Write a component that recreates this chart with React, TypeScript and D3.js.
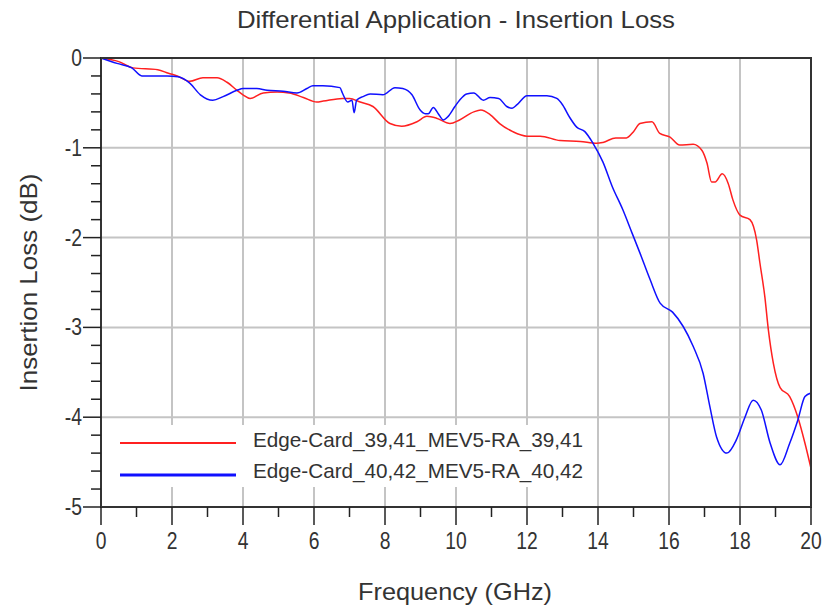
import React from "react";
import * as d3 from "d3";

const redFreq = [0,0.5,0.9,1.6,1.9,2.15,2.5,2.87,3.27,3.55,3.83,4.0,4.2,4.57,4.96,5.3,5.7,6.08,6.26,6.8,7.0,7.3,7.66,8.14,8.47,8.9,9.18,9.45,9.83,10.1,10.5,10.7,10.96,11.23,11.6,12.0,12.37,12.93,13.5,13.97,14.14,14.5,14.8,15.0,15.18,15.52,15.74,16.03,16.3,16.68,16.93,17.07,17.2,17.3,17.5,17.67,17.8,18.0,18.28,18.47,18.56,18.7,18.8,18.94,19.13,19.4,19.63,19.83,20];
const redLoss = [0,-0.04,-0.11,-0.13,-0.17,-0.2,-0.26,-0.22,-0.22,-0.27,-0.36,-0.41,-0.45,-0.39,-0.38,-0.39,-0.44,-0.49,-0.48,-0.45,-0.45,-0.49,-0.54,-0.73,-0.76,-0.71,-0.65,-0.67,-0.73,-0.69,-0.6,-0.58,-0.63,-0.73,-0.82,-0.87,-0.87,-0.92,-0.93,-0.95,-0.94,-0.89,-0.89,-0.82,-0.73,-0.71,-0.84,-0.88,-0.97,-0.96,-1.03,-1.17,-1.38,-1.38,-1.29,-1.4,-1.58,-1.75,-1.8,-2.03,-2.28,-2.66,-3.03,-3.4,-3.67,-3.77,-4.0,-4.29,-4.57];

const blueFreq = [0,0.45,0.87,1.15,1.86,2.17,2.5,2.8,3.15,3.44,3.83,4.0,4.39,4.68,5.13,5.52,5.8,5.97,6.25,6.73,6.8,6.95,7.07,7.13,7.2,7.38,7.58,7.94,8.28,8.5,8.76,8.99,9.13,9.22,9.36,9.5,9.64,9.78,9.97,10.1,10.3,10.5,10.77,10.96,11.2,11.43,11.58,11.72,12.0,12.56,12.84,13.0,13.2,13.4,13.63,13.86,14.14,14.4,14.7,14.96,15.18,15.47,15.75,16.1,16.4,16.68,16.96,17.15,17.34,17.63,17.9,18.14,18.37,18.6,18.85,19.13,19.4,19.63,19.83,20];
const blueLoss = [0,-0.06,-0.11,-0.2,-0.2,-0.21,-0.28,-0.41,-0.47,-0.43,-0.36,-0.34,-0.34,-0.36,-0.37,-0.39,-0.34,-0.31,-0.31,-0.33,-0.39,-0.49,-0.47,-0.61,-0.47,-0.43,-0.4,-0.41,-0.33,-0.34,-0.41,-0.58,-0.62,-0.62,-0.55,-0.62,-0.69,-0.65,-0.54,-0.47,-0.4,-0.39,-0.47,-0.44,-0.45,-0.54,-0.56,-0.52,-0.42,-0.42,-0.45,-0.52,-0.66,-0.77,-0.82,-0.95,-1.16,-1.43,-1.69,-1.95,-2.17,-2.47,-2.73,-2.83,-2.99,-3.21,-3.51,-3.88,-4.22,-4.4,-4.25,-4.0,-3.81,-3.92,-4.29,-4.53,-4.29,-4.03,-3.77,-3.73];

const seriesNames = ["Edge-Card_39,41_MEV5-RA_39,41", "Edge-Card_40,42_MEV5-RA_40,42"];
const seriesColors = ["#ff2020", "#1010ff"];
const xTicks = [0,2,4,6,8,10,12,14,16,18,20];
const yTicks = [0,-1,-2,-3,-4,-5];

const title = "Differential Application - Insertion Loss";
const xLabel = "Frequency (GHz)";
const yLabel = "Insertion Loss (dB)";

export default function App() {
  const W = 822, H = 607;
  const left = 101, right = 811, top = 58, bottom = 507;
  const x = d3.scaleLinear().domain([0, 20]).range([left, right]);
  const y = d3.scaleLinear().domain([0, -5]).range([top, bottom]);
  const line = d3.line<[number, number]>().x(d => x(d[0])).y(d => y(d[1])).curve(d3.curveMonotoneX);
  const red = redFreq.map((f, i) => [f, redLoss[i]] as [number, number]);
  const blue = blueFreq.map((f, i) => [f, blueLoss[i]] as [number, number]);
  const xMinor = d3.range(0, 21, 1);
  const yMinor = d3.range(0, 26).map(i => -i * 0.2);
  const font = "'Liberation Sans', Arial, sans-serif";
  const txt = "#333";
  return (
    <svg width={W} height={H} style={{ position: "absolute", left: 0, top: 0, background: "#fff" }} fontFamily={font}>
      <rect x={0} y={0} width={W} height={H} fill="#fff" />
      <text x={456} y={28} textAnchor="middle" fontSize={24} fill={txt} textLength={438} lengthAdjust="spacingAndGlyphs">{title}</text>
      {xTicks.slice(1, -1).map(t => (
        <line key={"gx" + t} x1={x(t)} x2={x(t)} y1={top} y2={bottom} stroke="#c4c4c4" strokeWidth={2} />
      ))}
      {yTicks.slice(1, -1).map(t => (
        <line key={"gy" + t} x1={left} x2={right} y1={y(t)} y2={y(t)} stroke="#c4c4c4" strokeWidth={2} />
      ))}
      <rect x={103} y={425} width={494} height={62} fill="#fff" />
      <path d={line(red) || ""} fill="none" stroke={seriesColors[0]} strokeWidth={1.5} />
      <path d={line(blue) || ""} fill="none" stroke={seriesColors[1]} strokeWidth={1.5} />
      <rect x={left} y={top} width={right - left} height={bottom - top} fill="none" stroke="#333" strokeWidth={2} />
      {xMinor.map(t => (
        <line key={"tx" + t} x1={x(t)} x2={x(t)} y1={bottom} y2={bottom + (t % 2 === 0 ? 18 : 10)} stroke="#222" strokeWidth={1.5} />
      ))}
      {yMinor.map((t, i) => (
        <line key={"ty" + i} x1={left - (i % 5 === 0 ? 18 : 10)} x2={left} y1={y(t)} y2={y(t)} stroke="#222" strokeWidth={1.5} />
      ))}
      {xTicks.map(t => (
        <g key={"lx" + t} transform={`translate(${x(t)},549) scale(0.84,1)`}>
          <text x={0} y={0} textAnchor="middle" fontSize={23} fill={txt}>{t}</text>
        </g>
      ))}
      {yTicks.map(t => (
        <g key={"ly" + t} transform={`translate(82,${y(t) + 8}) scale(0.84,1)`}>
          <text x={0} y={0} textAnchor="end" fontSize={23} fill={txt}>{t}</text>
        </g>
      ))}
      <text x={455} y={600} textAnchor="middle" fontSize={24} fill={txt} textLength={194} lengthAdjust="spacingAndGlyphs">{xLabel}</text>
      <text transform={`translate(37,${(top + bottom) / 2}) rotate(-90)`} textAnchor="middle" fontSize={24} fill={txt} textLength={218} lengthAdjust="spacingAndGlyphs">{yLabel}</text>
      <line x1={120} x2={236} y1={443} y2={443} stroke={seriesColors[0]} strokeWidth={2} />
      <line x1={120} x2={236} y1={475} y2={475} stroke={seriesColors[1]} strokeWidth={3} />
      <text x={253} y={447} fontSize={21} fill={txt} textLength={330} lengthAdjust="spacingAndGlyphs">{seriesNames[0]}</text>
      <text x={253} y={478} fontSize={21} fill={txt} textLength={330} lengthAdjust="spacingAndGlyphs">{seriesNames[1]}</text>
    </svg>
  );
}
